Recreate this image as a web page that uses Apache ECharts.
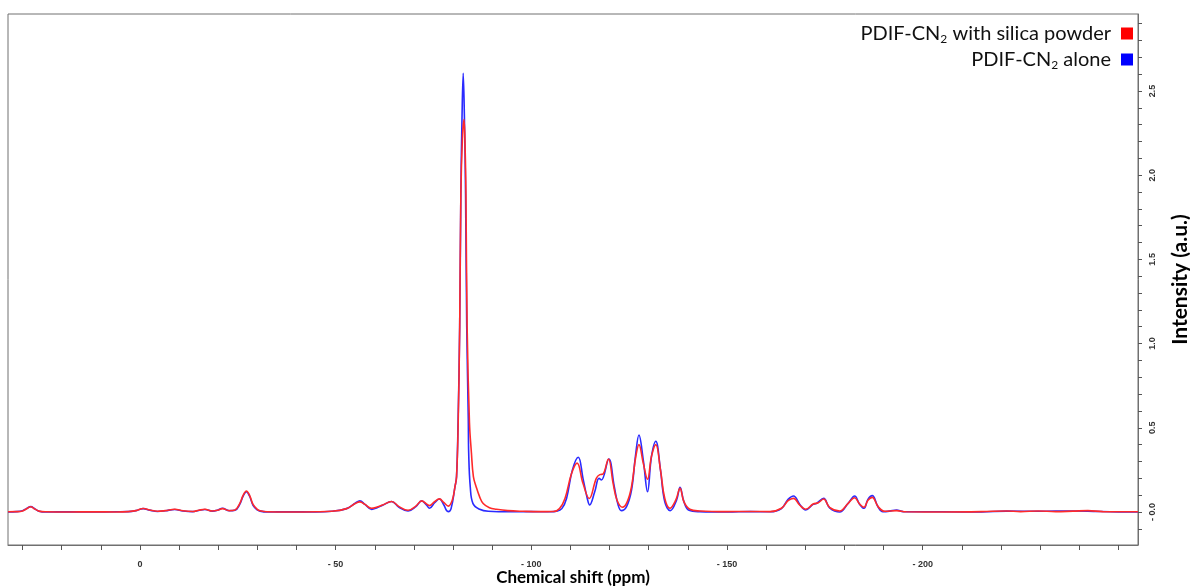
<!DOCTYPE html>
<html>
<head>
<meta charset="utf-8">
<title>PDIF-CN2 spectrum</title>
<script src="https://cdn.jsdelivr.net/npm/echarts@6/dist/echarts.min.js"></script>
<style>
  html, body { margin: 0; padding: 0; background: #fff; }
  #chart { width: 1190px; height: 588px; }
</style>
</head>
<body>
<div id="chart"></div>
<script>
// Series names (subscript written as rich-text markup in the legend formatter)
const seriesNames = ['PDIF-CN2 with silica powder', 'PDIF-CN2 alone'];

// [chemical shift (ppm), intensity (a.u.)] - with silica powder
const silicaPoints = [
  [33.7, 0.001], [31.5, 0.002], [30.0, 0.006], [29.0, 0.018], [27.9, 0.031], [26.8, 0.017],
  [25.8, 0.005], [24.0, 0.001], [18.0, 0.0], [12.0, 0.001], [6.0, 0.0], [3.0, 0.002],
  [1.0, 0.008], [-0.85, 0.021], [-2.5, 0.012], [-4.5, 0.004], [-6.5, 0.008], [-8.9, 0.016],
  [-11, 0.007], [-13.5, 0.003], [-15, 0.01], [-16.6, 0.016], [-18.5, 0.006], [-19.8, 0.01],
  [-21.1, 0.02], [-22.8, 0.008], [-24.3, 0.012], [-25.5, 0.05], [-26.4, 0.1], [-27.2, 0.125],
  [-28.0, 0.1], [-28.9, 0.045], [-30.0, 0.015], [-30.7, 0.007], [-32.5, 0.001], [-38, 0.0],
  [-45, 0.001], [-49, 0.004], [-52.8, 0.02], [-55, 0.05], [-56.2, 0.06], [-57.5, 0.045],
  [-59.2, 0.022], [-60.6, 0.03], [-62, 0.042], [-64.3, 0.062], [-66.2, 0.032], [-68.5, 0.01],
  [-70.5, 0.035], [-72, 0.066], [-73.2, 0.048], [-74, 0.038], [-75.3, 0.062], [-76.5, 0.078],
  [-77.7, 0.055], [-78.8, 0.035], [-79.8, 0.07], [-80.5, 0.15], [-80.9, 0.21], [-81.3, 0.51],
  [-81.7, 1.10], [-82.0, 1.89], [-82.4, 2.22], [-82.8, 2.33], [-83.1, 2.15], [-83.3, 1.89],
  [-83.6, 1.10], [-84.2, 0.53], [-84.7, 0.35], [-85.2, 0.21], [-85.9, 0.15], [-86.8, 0.09],
  [-87.7, 0.05], [-89.3, 0.025], [-91.1, 0.016], [-94, 0.008], [-98, 0.004], [-102, 0.002],
  [-105.6, 0.003], [-107.2, 0.02], [-108.6, 0.08], [-110.3, 0.23], [-111.7, 0.29], [-113.2, 0.17],
  [-114.8, 0.08], [-116.6, 0.2], [-117.5, 0.222], [-118.3, 0.225], [-119.7, 0.315], [-120.9, 0.17],
  [-121.9, 0.07], [-123.3, 0.028], [-124.5, 0.06], [-125.6, 0.15], [-126.7, 0.33], [-127.5, 0.40],
  [-128.6, 0.29], [-129.7, 0.194], [-130.7, 0.33], [-131.8, 0.40], [-133.0, 0.25], [-134.1, 0.08],
  [-135.4, 0.022], [-136.9, 0.07], [-138.0, 0.14], [-139.0, 0.06], [-140.5, 0.016], [-143, 0.006],
  [-150, 0.002], [-156, 0.003], [-161, 0.002], [-163.9, 0.022], [-165.6, 0.067], [-167.0, 0.081],
  [-168.6, 0.04], [-170.1, 0.016], [-172.0, 0.047], [-173.3, 0.055], [-174.7, 0.077], [-176.2, 0.028],
  [-178.8, 0.006], [-180.9, 0.05], [-182.6, 0.085], [-183.9, 0.047], [-185.0, 0.028], [-186.0, 0.07],
  [-187.1, 0.087], [-188.6, 0.032], [-190.3, 0.004], [-193.3, 0.008], [-195.8, 0.001], [-205, 0.0],
  [-215, 0.002], [-221.4, 0.006], [-225, 0.002], [-229.5, 0.006], [-234, 0.002], [-238.4, 0.005],
  [-242.2, 0.008], [-246, 0.002], [-255, 0.001]
];

// [chemical shift (ppm), intensity (a.u.)] - compound alone
const alonePoints = [
  [33.7, 0.0], [31.5, 0.002], [30.0, 0.008], [29.0, 0.02], [27.9, 0.032], [26.8, 0.018],
  [25.8, 0.005], [24.0, 0.0], [18.0, 0.001], [12.0, 0.0], [6.0, 0.001], [3.0, 0.002],
  [1.0, 0.008], [-0.85, 0.02], [-2.5, 0.011], [-4.5, 0.003], [-6.5, 0.007], [-8.9, 0.015],
  [-11, 0.006], [-13.5, 0.002], [-15, 0.009], [-16.6, 0.015], [-18.5, 0.005], [-19.8, 0.01],
  [-21.1, 0.022], [-22.8, 0.007], [-24.3, 0.01], [-25.5, 0.045], [-26.4, 0.095], [-27.2, 0.12],
  [-28.0, 0.095], [-28.9, 0.04], [-30.0, 0.012], [-30.7, 0.005], [-32.5, 0.0], [-38, 0.001],
  [-45, 0.0], [-49, 0.004], [-52.8, 0.02], [-55, 0.052], [-56.2, 0.066], [-57.5, 0.045],
  [-59.2, 0.015], [-60.6, 0.025], [-62, 0.04], [-64.3, 0.062], [-66.2, 0.028], [-68.5, 0.006],
  [-70.5, 0.032], [-72, 0.066], [-73.2, 0.042], [-74, 0.022], [-75.3, 0.055], [-76.5, 0.077],
  [-77.7, 0.04], [-78.3, 0.01], [-78.8, 0.002], [-79.5, 0.02], [-80.5, 0.15], [-80.9, 0.21],
  [-81.3, 0.55], [-81.7, 1.10], [-82.0, 1.89], [-82.3, 2.35], [-82.6, 2.605], [-82.9, 2.35],
  [-83.2, 1.89], [-83.5, 1.10], [-83.9, 0.55], [-84.0, 0.35], [-84.4, 0.15], [-85.1, 0.05],
  [-86.8, 0.016], [-89, 0.004], [-95, 0.001], [-100, 0.002], [-105, 0.001], [-106.4, 0.004],
  [-107.8, 0.02], [-109.0, 0.08], [-110.5, 0.25], [-112.0, 0.325], [-113.2, 0.20], [-114.3, 0.08],
  [-114.9, 0.042], [-116.2, 0.12], [-117.3, 0.2], [-117.9, 0.19], [-119.8, 0.315], [-121.2, 0.15],
  [-122.2, 0.04], [-123.0, 0.008], [-124.3, 0.03], [-125.6, 0.13], [-126.6, 0.33], [-127.5, 0.457],
  [-128.6, 0.31], [-129.7, 0.12], [-130.7, 0.33], [-131.8, 0.42], [-133.0, 0.25], [-134.1, 0.06],
  [-135.5, 0.008], [-137.1, 0.07], [-138.0, 0.147], [-139.0, 0.06], [-140.3, 0.01], [-143, 0.002],
  [-150, 0.0], [-156, 0.002], [-161, 0.001], [-163.9, 0.02], [-165.6, 0.075], [-167.0, 0.095],
  [-168.6, 0.045], [-170.1, 0.012], [-172.0, 0.045], [-172.8, 0.05], [-174.7, 0.081], [-176.2, 0.025],
  [-178.8, 0.0], [-180.9, 0.05], [-182.6, 0.095], [-183.9, 0.045], [-185.0, 0.022], [-186.0, 0.075],
  [-187.1, 0.097], [-188.6, 0.03], [-189.8, 0.002], [-191.5, 0.005], [-193.3, 0.012], [-195, 0.002],
  [-205, 0.001], [-215, 0.0], [-221.4, 0.005], [-229.5, 0.004], [-238.4, 0.006], [-242.2, 0.005],
  [-250, 0.0], [-255, 0.0]
];

// Axis ticks and labels
const xTickValues = [30, 20, 10, 0, -10, -20, -30, -40, -50, -60, -70, -80, -90, -100, -110, -120,
  -130, -140, -150, -160, -170, -180, -190, -200, -210, -220, -230, -240, -250];
const xLabelValues = [0, -50, -100, -150, -200];
const yTickValues = [-0.1, 0, 0.1, 0.2, 0.3, 0.4, 0.5, 0.6, 0.7, 0.8, 0.9, 1.0, 1.1, 1.2, 1.3, 1.4,
  1.5, 1.6, 1.7, 1.8, 1.9, 2.0, 2.1, 2.2, 2.3, 2.4, 2.5, 2.6, 2.7, 2.8, 2.9];
const yLabelValues = [0, 0.5, 1.0, 1.5, 2.0, 2.5];

const RED = '#ff0000';
const BLUE = '#0000ff';
const RED_LINE = '#ff2a2a';
const BLUE_LINE = '#2a2aff';
const AXIS_COLOR = '#707070';
const TICK_FONT = { fontFamily: 'Liberation Sans', fontSize: 9, fontWeight: 'bold', color: '#333' };

const chart = echarts.init(document.getElementById('chart'), null, { renderer: 'canvas' });

chart.setOption({
  animation: false,
  backgroundColor: '#fff',
  grid: {
    left: 8, right: 52, top: 14, bottom: 43,
    outerBoundsMode: 'none',
    containLabel: false,
    show: true, borderColor: AXIS_COLOR, borderWidth: 1, backgroundColor: 'transparent'
  },
  legend: {
    data: [seriesNames[0], seriesNames[1]],
    orient: 'vertical',
    right: 52,
    top: 17,
    align: 'right',
    icon: 'rect',
    itemWidth: 12,
    itemHeight: 12,
    itemGap: 3,
    selectedMode: false,
    formatter: name => name.replace('CN2', 'CN{sub|2}'),
    textStyle: {
      fontFamily: 'Lato',
      fontSize: 20,
      color: '#111',
      lineHeight: 23,
      padding: [0, 5, 0, 0],
      rich: {
        sub: { fontFamily: 'Lato', fontSize: 12, color: '#111', verticalAlign: 'bottom', lineHeight: 12 }
      }
    }
  },
  xAxis: {
    type: 'value',
    inverse: true,
    min: -255,
    max: 33.7,
    name: 'Chemical shift (ppm)',
    nameLocation: 'middle',
    nameGap: 24,
    nameMoveOverlap: false,
    nameTextStyle: { fontFamily: 'Lato', fontSize: 17, fontWeight: 'bold', color: '#000' },
    splitLine: { show: false },
    axisLine: { show: true, onZero: false, lineStyle: { color: AXIS_COLOR, width: 1 } },
    axisTick: {
      show: true, inside: false, length: 5, customValues: xTickValues,
      lineStyle: { color: '#555', width: 1 }
    },
    axisLabel: {
      show: true, margin: 15, customValues: xLabelValues,
      formatter: v => (v === 0 ? '0' : '- ' + Math.abs(v)),
      ...TICK_FONT
    }
  },
  yAxis: {
    type: 'value',
    position: 'right',
    min: -0.196,
    max: 2.957,
    name: 'Intensity (a.u.)',
    nameLocation: 'middle',
    nameRotate: 90,
    nameGap: 32,
    nameMoveOverlap: false,
    nameTextStyle: { fontFamily: 'Lato', fontSize: 21, fontWeight: 'bold', color: '#000' },
    splitLine: { show: false },
    axisLine: { show: true, onZero: false, lineStyle: { color: AXIS_COLOR, width: 1 } },
    axisTick: {
      show: true, inside: false, length: 4, customValues: yTickValues,
      lineStyle: { color: '#555', width: 1 }
    },
    axisLabel: {
      show: true, margin: 10, rotate: 90, customValues: yLabelValues,
      formatter: v => (Math.abs(v) < 1e-9 ? '- 0.0' : v.toFixed(1)),
      ...TICK_FONT
    }
  },
  series: [
    {
      name: seriesNames[1],
      type: 'line',
      data: alonePoints,
      showSymbol: false,
      smooth: 0.4,
      itemStyle: { color: BLUE },
      lineStyle: { color: BLUE_LINE, width: 1.6 },
      z: 2
    },
    {
      name: seriesNames[0],
      type: 'line',
      data: silicaPoints,
      showSymbol: false,
      smooth: 0.4,
      itemStyle: { color: RED },
      lineStyle: { color: RED_LINE, width: 1.6 },
      z: 3
    }
  ]
});
</script>
</body>
</html>
